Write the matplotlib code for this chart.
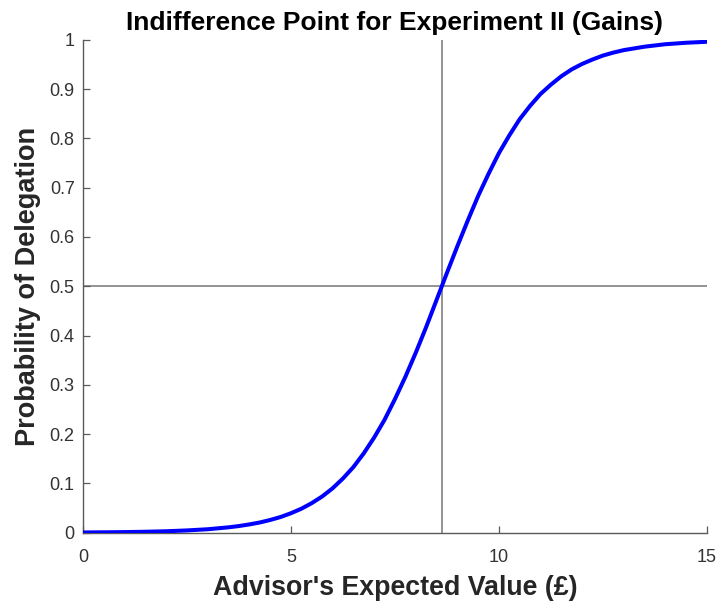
import matplotlib
matplotlib.use("Agg")
import matplotlib.pyplot as plt

# values
ev = [0, 0.5, 1, 1.5, 2, 2.5, 3, 3.5, 3.75, 4, 4.25, 4.5, 4.75, 5, 5.25,
      5.5, 5.75, 6, 6.25, 6.5, 6.75, 7, 7.25, 7.5, 7.75, 8, 8.25, 8.5,
      8.75, 9, 9.25, 9.5, 9.75, 10, 10.25, 10.5, 10.75, 11, 11.25, 11.5,
      11.75, 12, 12.25, 12.5, 12.75, 13, 13.5, 14, 14.5, 15]
p_deleg = [0.0005, 0.0008, 0.0012, 0.0019, 0.0029, 0.0046, 0.0070, 0.0109,
           0.0135, 0.0168, 0.0207, 0.0258, 0.0318, 0.0395, 0.0486,
           0.060, 0.0735, 0.090, 0.110, 0.133, 0.161, 0.193, 0.229, 0.271,
           0.316, 0.365, 0.417, 0.472, 0.527, 0.581, 0.633, 0.683, 0.728,
           0.770, 0.806, 0.839, 0.866, 0.890, 0.909, 0.926, 0.940, 0.951,
           0.960, 0.968, 0.974, 0.979, 0.986, 0.991, 0.994, 0.996]
indiff_x = 8.63
indiff_y = 0.5
xticks = [0, 5, 10, 15]
yticks = [0, 0.1, 0.2, 0.3, 0.4, 0.5, 0.6, 0.7, 0.8, 0.9, 1]
ytick_labels = ["0", "0.1", "0.2", "0.3", "0.4", "0.5", "0.6", "0.7", "0.8", "0.9", "1"]

plt.rcParams['font.family'] = ['Liberation Sans', 'DejaVu Sans']

fig = plt.figure(figsize=(7.22, 6.03), dpi=100)
ax = fig.add_axes([0.115, 0.1166, 0.864, 0.8174])

ax.axvline(indiff_x, color="#808080", lw=1.2, zorder=1)
ax.axhline(indiff_y, color="#808080", lw=1.2, zorder=1)
ax.plot(ev, p_deleg, color="#0000ff", lw=2.9, solid_capstyle="round",
        solid_joinstyle="round", zorder=3)

ax.set_xlim(0, 15)
ax.set_ylim(0, 1)
ax.set_xticks(xticks)
ax.set_yticks(yticks)
ax.set_yticklabels(ytick_labels)

for s in ["top", "right"]:
    ax.spines[s].set_visible(False)
for s in ["left", "bottom"]:
    ax.spines[s].set_color("#5a5a5a")
    ax.spines[s].set_linewidth(1.0)
ax.tick_params(direction="in", length=5, width=0.9, colors="#5a5a5a",
               labelsize=13, labelcolor="#333333")
ax.tick_params(axis="y", pad=6)
ax.tick_params(axis="x", pad=12)

ax.set_title("Indifference Point for Experiment II (Gains)", fontsize=19,
             fontweight="bold", pad=7)
ax.set_xlabel("Advisor's Expected Value (£)", fontsize=19.3, fontweight="bold",
              color="#262626", labelpad=6)
ax.set_ylabel("Probability of Delegation", fontsize=19.5, fontweight="bold",
              color="#262626", labelpad=6)

fig.savefig("out.png", dpi=100)
